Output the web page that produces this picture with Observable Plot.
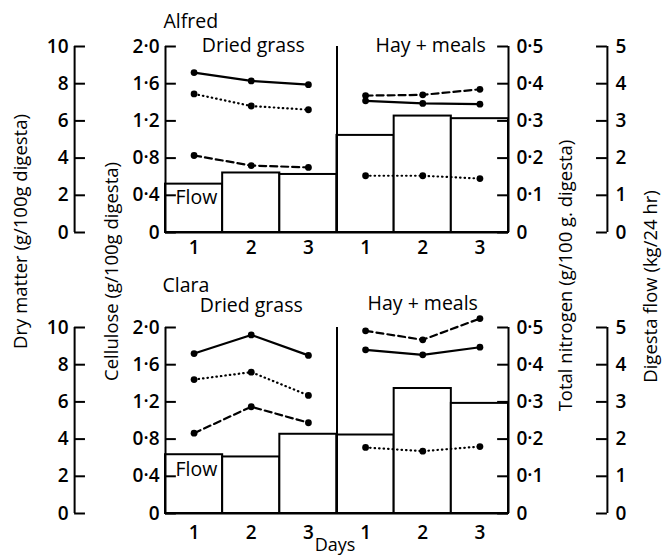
<!DOCTYPE html>
<html><head><meta charset="utf-8">
<script src="https://cdn.jsdelivr.net/npm/d3@7"></script>
<script src="https://cdn.jsdelivr.net/npm/@observablehq/plot@0.6"></script>
<style>html,body{margin:0;padding:0;background:#fff;} #chart{width:664px;height:559px;}</style>
</head><body><div id="chart"></div>
<script>
// ---------- data ----------
const animals = ["Alfred", "Clara"];
const diets = ["Dried grass", "Hay + meals"];
const days = [1, 2, 3];

// each array: days 1-3 on dried grass, then days 1-3 on hay + meals
const flowAlfred      = [1.30, 1.60, 1.56, 2.61, 3.13, 3.06];       // digesta flow, kg/24 hr (bars)
const dryMatterAlfred = [8.60, 8.15, 7.95, 7.08, 6.94, 6.90];       // g/100 g digesta (solid)
const celluloseAlfred = [1.49, 1.36, 1.32, 0.61, 0.61, 0.58];       // g/100 g digesta (dotted)
const nitrogenAlfred  = [0.207, 0.180, 0.175, 0.368, 0.370, 0.385]; // g/100 g digesta (dashed)

const flowClara       = [1.58, 1.52, 2.13, 2.11, 3.36, 2.96];
const dryMatterClara  = [8.60, 9.60, 8.50, 8.80, 8.53, 8.94];
const celluloseClara  = [1.44, 1.52, 1.27, 0.71, 0.67, 0.72];
const nitrogenClara   = [0.216, 0.287, 0.244, 0.491, 0.467, 0.524];

const dryMatterTicks = [0, 2, 4, 6, 8, 10];
const celluloseTicks = [0, 0.4, 0.8, 1.2, 1.6, 2.0];
const nitrogenTicks  = [0, 0.1, 0.2, 0.3, 0.4, 0.5];
const flowTicks      = [0, 1, 2, 3, 4, 5];

// ---------- build table ----------
const S = {
  Alfred: {flow: flowAlfred, dm: dryMatterAlfred, cel: celluloseAlfred, n: nitrogenAlfred},
  Clara:  {flow: flowClara,  dm: dryMatterClara,  cel: celluloseClara,  n: nitrogenClara}
};
const maxDM = d3.max(dryMatterTicks), maxCel = d3.max(celluloseTicks),
      maxN = d3.max(nitrogenTicks), maxFlow = d3.max(flowTicks);
const rows = [];
animals.forEach(a => diets.forEach((diet, di) => days.forEach((day, k) => {
  const i = di * days.length + k;
  rows.push({animal: a, diet, day, slot: i,
    flow: S[a].flow[i], dm: S[a].dm[i], cel: S[a].cel[i], n: S[a].n[i]});
})));
const nSlots = diets.length * days.length;

const fmtDec = v => v === 0 ? "0" : v.toFixed(1).replace(".", "\u00B7");
const fmtInt = v => String(v);

// ---------- layout (x in slot units) ----------
const dmAxisX = -1.59, flowAxisX = 7.73, tickLen = 0.19;
const tickFont = {fontSize: 19, fontWeight: 600};
const labelFont = {fontSize: 19.5, fontWeight: 500};
const titleFont = {fontSize: 18.5, fontWeight: 500};

function axis(ticks, max, xPos, dir, side, fmt) {
  const data = animals.flatMap(a => ticks.map(t => ({animal: a, t, y: t / max})));
  return [
    Plot.ruleX(animals, {x: xPos, y1: 0, y2: 1, fy: d => d, strokeWidth: 2}),
    Plot.ruleY(data, {y: "y", x1: xPos, x2: xPos + dir * tickLen, fy: "animal", strokeWidth: 2}),
    Plot.text(data, {x: xPos, y: "y", fy: "animal", text: d => fmt(d.t),
      textAnchor: side < 0 ? "end" : "start", dx: side < 0 ? -6 : 8, ...tickFont})
  ];
}

const X = d => d.slot + 0.5;
function series(key, max, style) {
  return [
    Plot.line(rows, {x: X, y: d => d[key] / max, z: "diet", fy: "animal", stroke: "black", ...style}),
    Plot.dot(rows, {x: X, y: d => d[key] / max, fy: "animal", r: 3.4, fill: "black"})
  ];
}

const panelText = {
  Alfred: {name: [-2, -25], diet: [[2, -1], [8, -1]], flow: 2, days: 15},
  Clara:  {name: [-3, -42], diet: [[0, -22], [0, -24]], flow: -7, days: 19}
};

const marks = [
  Plot.rect(rows, {x1: "slot", x2: d => d.slot + 1, y1: 0, y2: d => d.flow / maxFlow, fy: "animal",
    fill: "white", stroke: "black", strokeWidth: 2}),
  Plot.ruleY(animals, {y: 0, x1: 0, x2: nSlots, fy: d => d, strokeWidth: 2}),
  Plot.ruleX(animals, {x: nSlots / 2, y1: 0, y2: 1, fy: d => d, strokeWidth: 2}),
  ...axis(dryMatterTicks, maxDM, dmAxisX, +1, -1, fmtInt),
  ...axis(celluloseTicks, maxCel, 0, +1, -1, fmtDec),
  ...axis(nitrogenTicks, maxN, nSlots, -1, +1, fmtDec),
  ...axis(flowTicks, maxFlow, flowAxisX, -1, +1, fmtInt),
  ...series("dm", maxDM, {strokeWidth: 2.2}),
  ...series("cel", maxCel, {strokeWidth: 2.2, strokeDasharray: "0.5 4", strokeLinecap: "round"}),
  ...series("n", maxN, {strokeWidth: 2.2, strokeDasharray: "7 4"})
];

animals.forEach(a => {
  const P = panelText[a];
  marks.push(
    Plot.text(rows.filter(d => d.animal === a), {x: X, y: 0, fy: "animal", text: "day", dy: P.days, ...tickFont}),
    Plot.text([a], {fy: d => d, frameAnchor: "top-left", textAnchor: "start", lineAnchor: "middle",
      dx: P.name[0], dy: P.name[1], ...labelFont}),
    Plot.text(["Flow"], {fy: () => a, x: 0, y: celluloseTicks[1] / maxCel, textAnchor: "start", dx: 10, dy: P.flow, ...labelFont}),
    ...diets.map((diet, di) => Plot.text([diet], {fy: () => a, x: di * days.length + days.length / 2,
      frameAnchor: "top", lineAnchor: "middle", dx: P.diet[di][0], dy: P.diet[di][1], ...labelFont}))
  );
});

// axis titles (placed relative to the top panel) and the shared x title
marks.push(
  Plot.text(["Dry matter (g/100g digesta)"], {fy: () => "Alfred", x: dmAxisX, y: 0, rotate: -90, dx: -54, dy: -1, ...titleFont}),
  Plot.text(["Cellulose (g/100g digesta)"], {fy: () => "Alfred", x: 0, y: 0, rotate: -90, dx: -53, dy: 39, ...titleFont}),
  Plot.text(["Total nitrogen (g/100 g. digesta)"], {fy: () => "Alfred", x: nSlots, y: 0, rotate: -90, dx: 58, dy: 43, ...titleFont}),
  Plot.text(["Digesta flow (kg/24 hr)"], {fy: () => "Alfred", x: flowAxisX, y: 0, rotate: -90, dx: 44, dy: 54, ...titleFont}),
  Plot.text(["Days"], {fy: () => "Clara", x: nSlots / 2, y: 0, dx: -2, dy: 32, fontSize: 18, fontWeight: 500})
);

const chart = Plot.plot({
  width: 664, height: 559,
  marginLeft: 165, marginRight: 156, marginTop: 46, marginBottom: 45,
  x: {domain: [0, nSlots], axis: null},
  y: {domain: [0, 1], axis: null},
  fy: {domain: animals, axis: null, paddingInner: 0.3375, paddingOuter: 0},
  style: {fontFamily: "'Open Sans', 'Noto Sans', sans-serif", background: "white", color: "black", overflow: "visible"},
  marks
});
document.getElementById("chart").appendChild(chart);
</script>
</body></html>
